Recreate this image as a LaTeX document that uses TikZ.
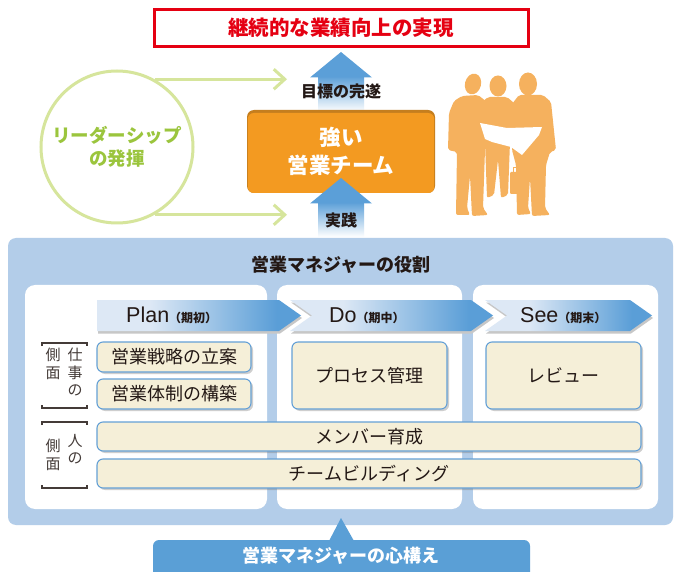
\documentclass[tikz,border=0pt]{standalone}
\usepackage{fontspec}
\setmainfont{Noto Sans CJK JP}
\newfontfamily\latinfont{Liberation Sans}
\usetikzlibrary{shapes.geometric,arrows.meta,shadows,calc}

\definecolor{goalred}{HTML}{E50012}
\definecolor{leadline}{HTML}{D6E59C}
\definecolor{leadtext}{HTML}{9BC53D}
\definecolor{teamorange}{HTML}{F39A21}
\definecolor{teamedge}{HTML}{C57E1E}
\definecolor{arrowblue}{HTML}{5B9FD8}
\definecolor{peoplecol}{HTML}{F5B15E}
\definecolor{panelblue}{HTML}{B3CDE9}
\definecolor{boxfill}{HTML}{F5EFD8}
\definecolor{boxline}{HTML}{64A0D6}
\definecolor{chevlight}{HTML}{DDE8F5}
\definecolor{chevdark}{HTML}{5A9ED7}
\definecolor{tabblue}{HTML}{5A9FD6}
\definecolor{inktext}{HTML}{231815}

\pgfdeclarehorizontalshading{chevshade}{100bp}{color(0bp)=(chevlight); color(38bp)=(chevlight); color(69bp)=(chevdark); color(100bp)=(chevdark)}

\tikzset{
  goalbox/.style={draw=goalred, line width=3pt, fill=white, minimum width=374pt, minimum height=37pt,
    text=goalred, font=\bfseries\fontsize{20.5}{24}\selectfont},
  leadcircle/.style={circle, draw=leadline, line width=3pt, minimum size=152pt, align=center,
    text=leadtext, font=\bfseries\fontsize{18.5}{23}\selectfont},
  leadarrow/.style={draw=leadline, line width=3pt, -{Straight Barb[length=11pt,width=20pt,line join=miter]}},
  teamtext/.style={text=white, align=center, font=\bfseries\fontsize{21.5}{28}\selectfont},
  steplabel/.style={text=inktext, font=\bfseries\fontsize{16}{19}\selectfont},
  paneltitle/.style={text=inktext, font=\bfseries\fontsize{18}{22}\selectfont},
  taskbox/.style={rectangle, rounded corners=6pt, fill=boxfill, draw=boxline, line width=1.1pt,
    text=inktext, font=\fontsize{18}{22}\selectfont,
    drop shadow={shadow xshift=2pt, shadow yshift=-2pt, opacity=.35, fill=black!55}},
  phaselabel/.style={anchor=base west, text=inktext, inner sep=0pt},
  sidetext/.style={align=center, anchor=north, inner sep=0pt, text=inktext!85,
    font=\fontsize{15}{17.5}\selectfont},
  sidebracket/.style={draw=inktext!85, line width=1.1pt},
  people/.style={fill=peoplecol},
}

\begin{document}
\begin{tikzpicture}[x=1pt,y=-1pt]
\useasboundingbox (0,0) rectangle (675,572);
\fill[white] (0,0) rectangle (675,572);

% ---- goal at the top ----
\node[goalbox] (goal) at (341,28) {継続的な業績向上の実現};

% ---- leadership circle and its two arrows ----
\node[leadcircle] (lead) at (117,147) {リーダーシップ\\の発揮};
\coordinate (tipA) at (287,79);
\coordinate (tipB) at (287,215);
\draw[leadarrow] (lead.61) -- (lead.61 -| tipA);
\draw[leadarrow] (lead.-61) -- (lead.-61 -| tipB);

% ---- upper blue arrow: goal achievement ----
\shade[top color=arrowblue, middle color=arrowblue!75!white, bottom color=white] (318,76) rectangle (364,112);
\fill[arrowblue] (310,77.5) -- (341,52) -- (372,77.5) -- cycle;
\node[steplabel] (achieve) at (341,91) {目標の完遂};

% ---- strong sales team box ----
\fill[teamedge, rounded corners=7pt] (247,110) rectangle (435,193);
\fill[teamorange, rounded corners=6pt] (247.8,113) rectangle (434.2,193);
\node[teamtext] (team) at (341,151) {強い\\営業チーム};

% ---- lower blue arrow: practice ----
\shade[top color=arrowblue, middle color=arrowblue!80!white, bottom color=white] (318,202) rectangle (364,237);
\fill[arrowblue] (310,203.5) -- (341,178) -- (372,203.5) -- cycle;
\node[steplabel] (practice) at (341,220) {実践};

% ---- sales people silhouettes ----
% left man, leaning over the plan
\fill[people, rounded corners=2pt] (462,96) -- (478,95) -- (487,102) -- (491,122) -- (487,134) -- (485,150)
  -- (483,208) -- (488,215) -- (472,216) -- (470,176) -- (467,208) -- (470,215) -- (456,215)
  -- (457,152) -- (448,150) -- (449,113) -- (454,101) -- cycle;
\fill[people, rotate around={-15:(473,84)}] (473,84) ellipse (8 and 10.5);
% middle man
\fill[people, rounded corners=2pt] (488,97) -- (507,97) -- (514,103) -- (516,140) -- (510,142) -- (508,195)
  -- (501,198) -- (498,160) -- (494,195) -- (487,198) -- (485,142) -- (478,140) -- (480,104) -- cycle;
\fill[people] (498,86) ellipse (8.5 and 10.5);
% right man with briefcase
\fill[people, rounded corners=2pt] (519,95) -- (543,95) -- (551,102) -- (556,150) -- (550,152) -- (546,165)
  -- (545,208) -- (550,215) -- (532,216) -- (530,178) -- (528,208) -- (531,214) -- (517,215)
  -- (516,165) -- (512,150) -- (512,104) -- cycle;
\fill[people] (528,84) ellipse (9 and 11.5);
\fill[people, rounded corners=1pt] (510,172) rectangle (525,194);
\draw[peoplecol, line width=1.5pt] (513.5,172) -- (513.5,167.5) -- (521.5,167.5) -- (521.5,172);
% the plan they hold
\fill[white] (480,123) -- (507,128) -- (542,127) -- (539,135) -- (522,155) -- (511,147) -- (492,142) -- (485,139) -- cycle;

% ---- manager's role panel ----
\fill[panelblue, rounded corners=8pt] (8,238) rectangle (673,525);
\node[paneltitle] (roletitle) at (341,265) {営業マネジャーの役割};
\fill[white, rounded corners=10pt] (25,285) rectangle (267,509);
\fill[white, rounded corners=10pt] (277,285) rectangle (462,509);
\fill[white, rounded corners=10pt] (473,285) rectangle (658,509);

% ---- Plan / Do / See chevrons ----
\fill[black!22, xshift=1pt, yshift=-2.5pt] (97,300) -- (279,300) -- (301,315.5) -- (279,331) -- (97,331) -- cycle;
\shade[shading=chevshade] (97,300) -- (279,300) -- (301,315.5) -- (279,331) -- (97,331) -- cycle;
\fill[black!22, xshift=1pt, yshift=-2.5pt] (290,300) -- (471,300) -- (493,315.5) -- (471,331) -- (290,331) -- (312,315.5) -- cycle;
\shade[shading=chevshade] (290,300) -- (471,300) -- (493,315.5) -- (471,331) -- (290,331) -- (312,315.5) -- cycle;
\fill[black!22, xshift=1pt, yshift=-2.5pt] (485,300) -- (630,300) -- (652,315.5) -- (630,331) -- (485,331) -- (507,315.5) -- cycle;
\shade[shading=chevshade] (485,300) -- (630,300) -- (652,315.5) -- (630,331) -- (485,331) -- (507,315.5) -- cycle;

\node[phaselabel] (plan) at (126,323) {{\latinfont\fontsize{21.5}{24}\selectfont Plan}{\bfseries\fontsize{12}{14}\selectfont （期初）}};
\node[phaselabel] (do) at (329,323) {{\latinfont\fontsize{21.5}{24}\selectfont Do}{\bfseries\fontsize{12}{14}\selectfont （期中）}};
\node[phaselabel] (see) at (520,323) {{\latinfont\fontsize{21.5}{24}\selectfont See}{\bfseries\fontsize{12}{14}\selectfont （期末）}};

% ---- task boxes ----
\node[taskbox, minimum width=154pt, minimum height=30pt] (strategy) at (174,357) {営業戦略の立案};
\node[taskbox, minimum width=154pt, minimum height=30pt] (structure) at (174,394) {営業体制の構築};
\node[taskbox, minimum width=155pt, minimum height=67pt] (process) at (369.5,375.5) {プロセス管理};
\node[taskbox, minimum width=155pt, minimum height=67pt] (review) at (563.5,375.5) {レビュー};
\node[taskbox, minimum width=544pt, minimum height=29pt] (members) at (369,436.5) {メンバー育成};
\node[taskbox, minimum width=544pt, minimum height=29pt] (building) at (369,473.5) {チームビルディング};

% ---- side labels with brackets ----
\node[sidetext] (workA) at (75,348) {仕\\事\\の};
\node[sidetext] (workB) at (53,348) {側\\面};
\draw[sidebracket] (42,346) -- (42,343) -- (87,343) -- (87,346);
\draw[sidebracket] (42,405) -- (42,408) -- (87,408) -- (87,405);
\node[sidetext] (peopleA) at (75,434) {人\\の};
\node[sidetext] (peopleB) at (53,439) {側\\面};
\draw[sidebracket] (42,425) -- (42,422) -- (87,422) -- (87,425);
\draw[sidebracket] (42,485) -- (42,488) -- (87,488) -- (87,485);

% ---- manager's mindset tab ----
\fill[tabblue] (329,541) -- (341,518) -- (354,541) -- cycle;
\fill[tabblue, rounded corners=6pt] (153,580) -- (153,540) -- (530,540) -- (530,580) -- cycle;
\node[text=white, font=\bfseries\fontsize{18}{22}\selectfont] (mindset) at (341,556) {営業マネジャーの心構え};
\end{tikzpicture}
\end{document}
